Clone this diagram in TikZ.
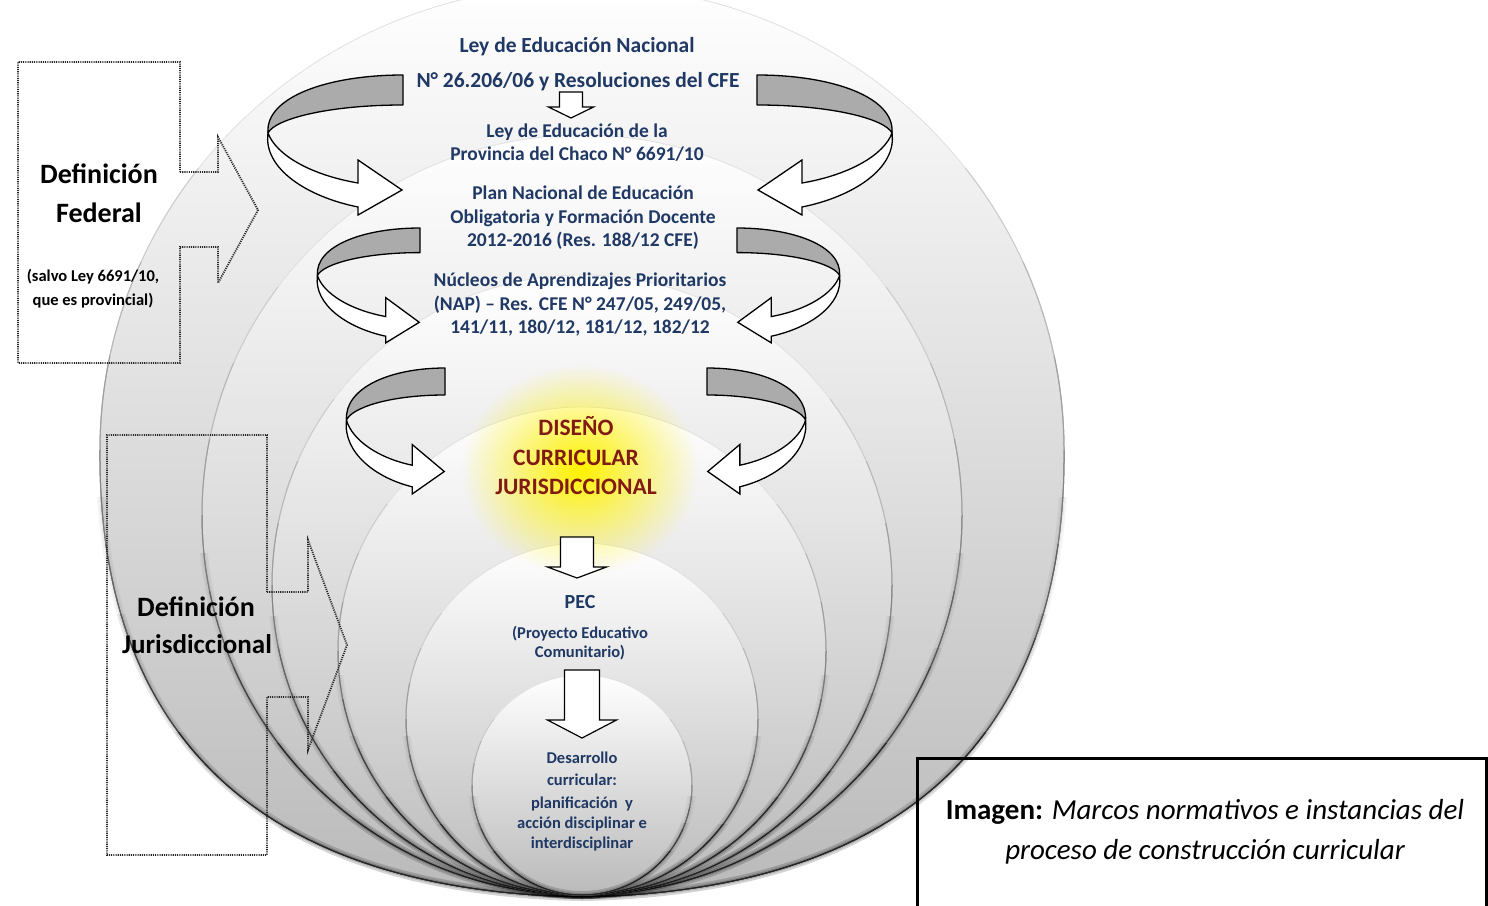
\documentclass[tikz,border=0pt]{standalone}
\usepackage{fontspec}
\setmainfont{Carlito}
\usetikzlibrary{fadings}
\tikzfading[name=myglow, inner color=transparent!0, outer color=transparent!100]
\definecolor{navy}{RGB}{31,56,100}
\definecolor{dred}{RGB}{128,26,18}
\tikzset{
  navytxt/.style={text=navy, inner sep=0pt, anchor=base},
  blacktxt/.style={text=black, inner sep=0pt, anchor=base},
  redtxt/.style={text=dred, inner sep=0pt, anchor=base},
  dotbox/.style={draw=black!85, line width=1.8pt, dash pattern=on 1.1pt off 1.1pt, line join=miter},
  backband/.style={fill=black!33, draw=black, line width=1.3pt, line join=round},
  frontband/.style={fill=white, draw=black, line width=1.3pt, line join=miter},
  blockarr/.style={fill=white, draw=black, line width=1.2pt, line join=miter},
  ringshade/.style={top color=white, middle color=white, bottom color=black!27},
}
% #1 path, #2 centre y, #3 radius
\newcommand{\ringdraw}[3]{%
  \shade[ringshade] #1;
  \draw[black!12, line width=0.8pt] #1;
  \foreach \f/\c in {-0.6/20, -0.4/28, -0.2/38, 0/48, 0.2/58, 0.4/68, 0.6/78} {%
    \begin{scope}
      \clip (0,{#2+\f*#3}) rectangle (1488,910);
      \draw[black!\c, line width=1pt] #1;
    \end{scope}}
  \foreach \f in {0.1,0.35,0.6,0.8} {%
    \begin{scope}
      \clip (0,{#2+\f*#3}) rectangle (1488,910);
      \draw[black, opacity=0.045, line width=8pt] #1;
      \draw[black, opacity=0.045, line width=4pt] #1;
    \end{scope}}}
\newcommand{\ribbon}[4]{%
  \begin{scope}[shift={(#1,#2)}, xscale=#3, yscale=#4]
    \path[backband] (0,0) .. controls (-75,0) and (-138,22) .. (-135,58)
      .. controls (-128,44) and (-75,30) .. (0,30) -- cycle;
    \path[frontband] (-135,58) .. controls (-140,94) and (-95,122) .. (-45,132)
      -- (-45,140) -- (-1,115) -- (-45,85) -- (-45,108)
      .. controls (-92,100) and (-127,80) .. (-135,58) -- cycle;
  \end{scope}}
\newcommand{\blockarrow}[6]{%
  \path[blockarr] ({#1-#2},#3) -- ({#1+#2},#3) -- ({#1+#2},#4) -- ({#1+#5},#4)
    -- (#1,#6) -- ({#1-#5},#4) -- ({#1-#2},#4) -- cycle;}
\begin{document}
\begin{tikzpicture}[x=1pt,y=-1pt]
\useasboundingbox (0,0) rectangle (1488,905);
\clip (0,0) rectangle (1488,905);
\fill[white] (0,0) rectangle (1488,905);
% outer ring
\ringdraw{(582,897) .. controls (950,890) and (1066,690) .. (1064,450)
   arc[start angle=0, end angle=180, x radius=482pt, y radius=465pt]
   .. controls (98,690) and (214,890) .. (582,897) -- cycle}{450}{470}
% nested rings tangent at the bottom
\foreach \r in {380,310,244,176,110} {%
  \ringdraw{(582,{895-\r}) circle[radius={\r pt}]}{895-\r}{\r}}
% yellow glow
\fill[yellow, path fading=myglow] (580,470) ellipse [x radius=118pt, y radius=105pt];
% curved ribbon arrows
\ribbon{403}{75}{1}{1}
\ribbon{757}{75}{-1}{1}
\ribbon{420}{228}{0.76}{0.82}
\ribbon{737}{228}{-0.76}{0.82}
\ribbon{445}{368}{0.73}{0.9}
\ribbon{707}{368}{-0.73}{0.9}
% block arrows
\blockarrow{571}{11.5}{92}{107}{22.5}{118}
\blockarrow{577}{16.5}{537}{567}{29.5}{578}
\blockarrow{582}{17.5}{670}{720}{34.5}{738}
% left dotted callouts
\path[dotbox] (180,172) -- (218,172) -- (218,137) -- (258,210) -- (218,283) -- (218,247)
  -- (180,247) -- (180,363) -- (18,363) -- (18,62) -- (180,62) -- cycle;
\path[dotbox] (267,592) -- (308,592) -- (308,540) -- (347,645) -- (308,750) -- (308,697)
  -- (267,697) -- (267,855) -- (107,855) -- (107,435) -- (267,435) -- cycle;
% central texts
\node[navytxt, font=\fontsize{21.5}{25}\selectfont\bfseries] (t1) at (577,52) {Ley de Educación Nacional};
\node[navytxt, font=\fontsize{21.5}{25}\selectfont\bfseries] (t2) at (578,87) {N° 26.206/06 y Resoluciones del CFE};
\node[navytxt, font=\fontsize{19.5}{23}\selectfont\bfseries] (t3) at (577,137.4) {Ley de Educación de la};
\node[navytxt, font=\fontsize{19.5}{23}\selectfont\bfseries] (t4) at (577,160.4) {Provincia del Chaco N° 6691/10};
\node[navytxt, font=\fontsize{19.5}{23}\selectfont\bfseries] (t5) at (583,199.4) {Plan Nacional de Educación};
\node[navytxt, font=\fontsize{19.5}{23}\selectfont\bfseries] (t6) at (583,223.4) {Obligatoria y Formación Docente};
\node[navytxt, font=\fontsize{19.5}{23}\selectfont\bfseries] (t7) at (583,246.4) {2012-2016 (Res. 188/12 CFE)};
\node[navytxt, font=\fontsize{19.5}{23}\selectfont\bfseries] (t8) at (580,286.4) {Núcleos de Aprendizajes Prioritarios};
\node[navytxt, font=\fontsize{19.5}{23}\selectfont\bfseries] (t9) at (580,310.4) {(NAP) – Res. CFE N° 247/05, 249/05,};
\node[navytxt, font=\fontsize{19.5}{23}\selectfont\bfseries] (t10) at (580,333.4) {141/11, 180/12, 181/12, 182/12};
\node[redtxt, font=\fontsize{23.5}{27}\selectfont\bfseries] (d1) at (576,435.5) {DISEÑO};
\node[redtxt, font=\fontsize{23.5}{27}\selectfont\bfseries] (d2) at (576,465.5) {CURRICULAR};
\node[redtxt, font=\fontsize{23.5}{27}\selectfont\bfseries] (d3) at (576,494.5) {JURISDICCIONAL};
\node[navytxt, font=\fontsize{20}{24}\selectfont\bfseries] (p1) at (580,608.4) {PEC};
\node[navytxt, font=\fontsize{16.5}{19}\selectfont\bfseries] (p2) at (580,638) {(Proyecto Educativo};
\node[navytxt, font=\fontsize{16.5}{19}\selectfont\bfseries] (p3) at (580,657) {Comunitario)};
\node[navytxt, font=\fontsize{16.5}{19}\selectfont\bfseries] (c1) at (582,763.4) {Desarrollo};
\node[navytxt, font=\fontsize{16.5}{19}\selectfont\bfseries] (c2) at (582,785.4) {curricular:};
\node[navytxt, font=\fontsize{16.5}{19}\selectfont\bfseries] (c3) at (582,808.4) {planificación\ \ y};
\node[navytxt, font=\fontsize{16.5}{19}\selectfont\bfseries] (c4) at (582,828.4) {acción disciplinar e};
\node[navytxt, font=\fontsize{16.5}{19}\selectfont\bfseries] (c5) at (582,848.4) {interdisciplinar};
% left texts
\node[blacktxt, font=\fontsize{28}{32}\selectfont\bfseries] (f1) at (99,183) {Definición};
\node[blacktxt, font=\fontsize{28}{32}\selectfont\bfseries] (f2) at (99,222) {Federal};
\node[blacktxt, font=\fontsize{16.5}{19}\selectfont\bfseries] (f3) at (93,281.5) {(salvo Ley 6691/10,};
\node[blacktxt, font=\fontsize{16.5}{19}\selectfont\bfseries] (f4) at (93,305.5) {que es provincial)};
\node[blacktxt, font=\fontsize{28}{32}\selectfont\bfseries] (j1) at (196,616) {Definición};
\node[blacktxt, font=\fontsize{27}{31}\selectfont\bfseries] (j2) at (197,653) {Jurisdiccional};
% caption box
\draw[black, line width=3pt] (917,758) rectangle (1486,915);
\node[blacktxt, font=\fontsize{29}{33}\selectfont] (cap1) at (1205,819.5) {\textbf{Imagen:} \textit{Marcos normativos e instancias del}};
\node[blacktxt, font=\fontsize{29}{33}\selectfont\itshape] (cap2) at (1205,859.5) {proceso de construcción curricular};
\end{tikzpicture}
\end{document}
